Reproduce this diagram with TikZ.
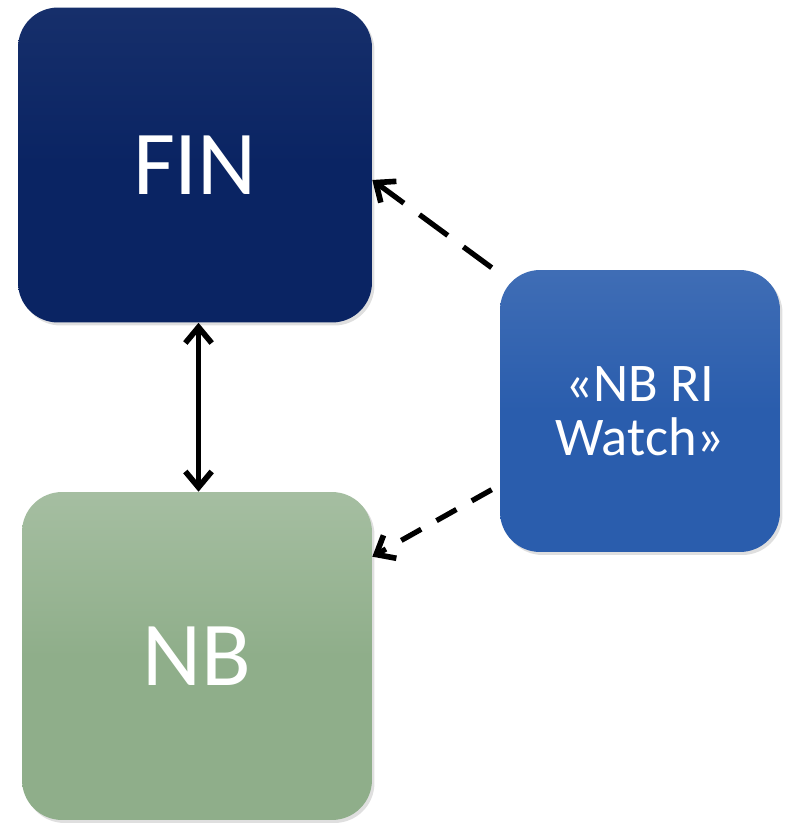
\documentclass[tikz,border=0pt]{standalone}
\usepackage{fontspec}
\setmainfont{Carlito}
\usetikzlibrary{arrows.meta,shadows}
\definecolor{finblue}{HTML}{0A2463}
\definecolor{nbgreen}{HTML}{8FAE8A}
\definecolor{watchblue}{HTML}{2A5DAD}
\tikzset{box/.style={rounded corners=0.8cm,inner sep=0pt,align=center,text=white,
    drop shadow={shadow xshift=0.05cm,shadow yshift=-0.06cm,opacity=0.25}}}
\tikzset{link/.style={line width=3pt,->}}

\begin{document}
\begin{tikzpicture}[x=0.02cm,y=-0.02cm,>={Straight Barb[length=9pt,width=15pt,line width=3.2pt]}]
    \useasboundingbox (0,0) rectangle (786,824);
    \node[box,top color=finblue!95!white,bottom color=finblue,middle color=finblue,minimum width=7.08cm,minimum height=6.3cm,font=\fontsize{52}{54}\selectfont] (fin) at (195,165) {FIN};
    \node[box,top color=nbgreen!80!white,bottom color=nbgreen,middle color=nbgreen,minimum width=7.0cm,minimum height=6.56cm,font=\fontsize{52}{54}\selectfont] (nb) at (197,656) {NB};
    \node[box,top color=watchblue!90!white,bottom color=watchblue,middle color=watchblue,minimum width=5.6cm,minimum height=5.64cm,font=\fontsize{31}{31}\selectfont] (watch) at (640,411) {«NB RI\\Watch»};

    \coordinate (finin) at ([yshift=-0.3cm]fin.east);
    \coordinate (nbin) at ([yshift=-1.3cm]nb.north east);
    \coordinate (w1) at ([shift={(-8,-2)}]watch.north west);
    \coordinate (w2) at ([shift={(-8,220)}]watch.north west);
    \draw [link,dash pattern=on 20pt off 11pt] (w1) to (finin);
    \draw [link,dash pattern=on 13pt off 10pt] (w2) to (nbin);
    \draw [link,line width=2.5pt,<->] ([xshift=2]fin.south) coordinate (top) -- (top |- nb.north);
\end{tikzpicture}
\end{document}
